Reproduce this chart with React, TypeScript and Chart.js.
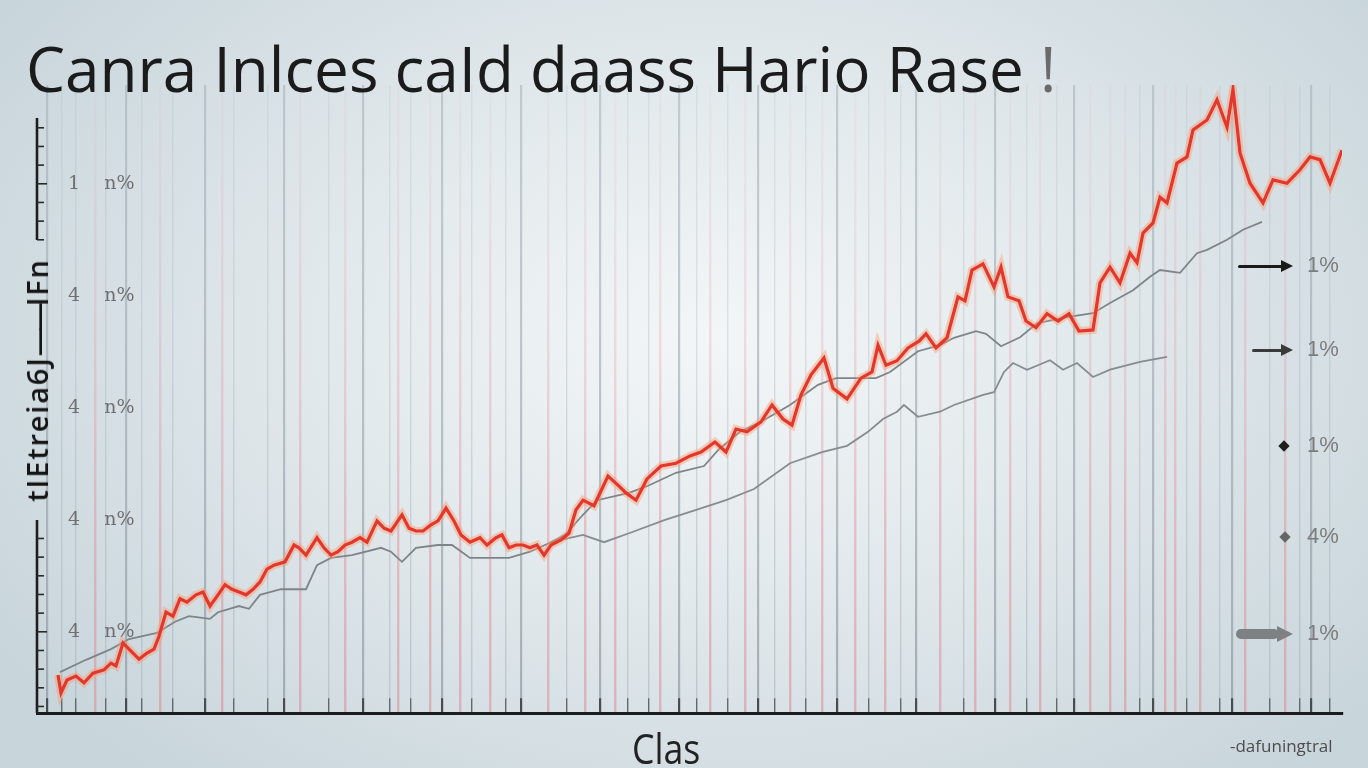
import React, { useEffect, useRef } from "react";
import { Chart, registerables } from "chart.js";

Chart.register(...registerables);

// ---------- text ----------
const TITLE = "Canra Inlces caId daass Hario Rase";
const TITLE_END = "!";
const Y_TITLE_A = "tIEtreia6J";
const Y_TITLE_B = "——";
const Y_TITLE_C = "IFn";
const X_TITLE = "Clas";
const NOTE = "-dafuningtral";
const Y_TICKS = [0, 20, 40, 60, 80];
const Y_TICK_LABELS = ["4    n%", "4    n%", "4    n%", "4    n%", "1    n%"];
const LEGEND_LABELS = ["1%", "1%", "1%", "4%", "1%"];

// ---------- series (x = day, y = index) ----------
const RED: [number, number][] = [
  [2.1, -7.7], [2.4, -10.9], [3.0, -8.6], [3.9, -7.9], [4.7, -9.1], [5.6, -7.4], [6.7, -6.8], [7.4, -5.6],
  [7.9, -6.1], [8.6, -2.0], [9.2, -3.1], [10.2, -4.9], [11.0, -3.8], [11.7, -3.1], [12.2, -0.8], [12.9, 3.5],
  [13.6, 2.8], [14.3, 5.9], [15.0, 5.3], [15.9, 6.6], [16.6, 7.1], [17.3, 4.6], [18.1, 6.6], [18.8, 8.4],
  [19.5, 7.6], [20.2, 7.1], [20.9, 6.6], [21.6, 7.6], [22.3, 8.9], [23.0, 11.2], [23.7, 11.9], [24.8, 12.5],
  [25.7, 15.5], [26.2, 15.0], [26.9, 13.7], [28.0, 16.8], [28.7, 15.0], [29.4, 13.7], [30.1, 14.3], [30.8, 15.5],
  [31.5, 16.0], [32.3, 16.8], [33.0, 16.0], [34.0, 19.8], [34.7, 18.5], [35.4, 18.0], [36.5, 20.9], [37.2, 18.5],
  [37.9, 18.0], [38.6, 18.0], [39.4, 19.1], [40.1, 19.8], [40.9, 22.1], [41.7, 19.8], [42.4, 17.3], [43.3, 16.0],
  [44.3, 16.8], [45.0, 15.5], [45.9, 16.8], [46.5, 17.3], [47.2, 15.0], [47.9, 15.5], [48.6, 15.5], [49.3, 15.0],
  [50.0, 15.5], [50.7, 13.7], [51.4, 15.5], [52.4, 16.4], [53.2, 17.6], [53.9, 21.8], [54.6, 23.5], [55.7, 22.5],
  [57.1, 27.8], [58.2, 26.0], [58.9, 24.8], [59.9, 23.5], [61.0, 27.3], [62.4, 29.6], [63.9, 30.1], [65.3, 31.4],
  [66.4, 32.1], [67.8, 33.9], [68.9, 32.1], [69.9, 36.2], [71.0, 35.7], [72.4, 37.5], [73.5, 40.5], [74.6, 38.0],
  [75.5, 36.9], [76.4, 42.3], [77.4, 45.9], [78.7, 48.9], [79.6, 43.5], [81.0, 41.6], [82.4, 45.3], [83.5, 46.4],
  [84.1, 51.2], [84.9, 47.6], [86.0, 48.4], [87.1, 50.7], [88.2, 51.9], [88.9, 53.2], [89.9, 50.7], [91.0, 52.5],
  [92.1, 59.8], [92.8, 59.1], [93.5, 64.6], [94.6, 65.7], [95.7, 61.6], [96.4, 65.1], [97.1, 59.8], [98.2, 59.1],
  [98.9, 55.5], [99.9, 54.3], [101.0, 56.8], [102.1, 55.5], [103.2, 56.8], [104.2, 53.7], [105.6, 53.9], [106.3, 62.3],
  [107.3, 65.1], [108.3, 62.3], [109.3, 67.6], [110.0, 65.9], [110.6, 71.2], [111.6, 73.0], [112.3, 77.6], [113.0, 76.6],
  [114.0, 83.7], [115.0, 84.8], [115.6, 89.6], [117.0, 91.4], [118.0, 95.0], [119.0, 90.1], [119.6, 96.8], [120.3, 85.5],
  [121.3, 80.1], [122.6, 76.6], [123.6, 80.7], [125.0, 80.1], [126.3, 82.5], [127.3, 84.8], [128.3, 84.3], [129.3, 80.1],
  [130.5, 86.0],
];

const GRAY_UPPER: [number, number][] = [
  [2.3, -7.2], [4.9, -5.0], [7.4, -3.1], [9.2, -1.3], [12.0, -0.2], [13.8, 1.8], [15.2, 2.8], [17.3, 2.3],
  [18.1, 3.5], [20.2, 4.6], [21.2, 4.1], [22.3, 6.6], [24.4, 7.6], [26.9, 7.6], [28.0, 11.9], [29.4, 13.2],
  [31.5, 13.7], [34.4, 15.0], [35.4, 14.3], [36.5, 12.5], [37.9, 15.0], [40.1, 15.5], [41.5, 15.5], [43.3, 13.2],
  [45.0, 13.2], [47.2, 13.2], [49.3, 14.3], [51.4, 16.0], [52.8, 17.3], [54.6, 20.9], [56.0, 23.5], [59.2, 24.8],
  [61.0, 26.0], [63.9, 28.4], [66.7, 29.6], [68.2, 32.6], [70.3, 35.7], [72.4, 37.5], [75.3, 40.5], [78.1, 44.1],
  [79.9, 45.3], [81.7, 45.3], [83.9, 45.3], [85.3, 46.4], [88.1, 50.1], [90.3, 51.2], [91.7, 52.5], [93.9, 53.7],
  [94.9, 53.2], [96.4, 51.0], [98.3, 52.6], [100.0, 55.1], [103.0, 56.2], [105.6, 56.9], [107.3, 58.7], [109.6, 61.0],
  [111.3, 63.4], [112.3, 64.6], [114.3, 64.1], [116.0, 67.6], [117.0, 68.2], [119.0, 70.0], [120.6, 71.8], [122.5, 73.2],
];

const GRAY_LOWER: [number, number][] = [
  [51.4, 16.0], [52.4, 16.4], [54.6, 17.3], [56.7, 16.0], [59.2, 17.6], [62.8, 20.0], [66.0, 21.8], [68.9, 23.5],
  [71.7, 25.5], [75.3, 30.1], [78.5, 32.1], [81.0, 33.2], [83.1, 35.7], [84.6, 38.0], [86.0, 39.3], [86.7, 40.5],
  [88.1, 38.4], [90.3, 39.3], [91.7, 40.5], [94.6, 42.3], [95.7, 42.8], [96.7, 46.4], [97.6, 48.0], [99.0, 46.8],
  [101.3, 48.5], [102.6, 46.8], [104.0, 48.0], [105.6, 45.5], [107.3, 46.8], [110.3, 48.2], [113.0, 49.1],
];

// vertical grid positions (x = day)
const GRID_MAJOR = [1.0, 8.9, 16.8, 24.7, 32.6, 40.5, 48.4, 56.3, 64.2, 72.1, 80.0, 87.9, 95.8, 103.7, 111.6, 119.5, 127.4];
const GRID_MINOR = [2.5, 3.9, 6.9, 10.5, 13.6, 19.7, 23.1, 29.2, 35.3, 37.4, 43.5, 46.9, 53.0, 59.1, 61.2, 66.0, 69.1,
  73.8, 76.9, 83.2, 86.4, 92.7, 99.0, 102.0, 110.3, 115.0, 118.3, 123.3, 126.3, 129.3];
const GRID_PINK = [5.8, 12.3, 18.5, 26.3, 30.8, 36.1, 39.3, 42.3, 45.3, 51.1, 54.8, 57.8, 62.3, 67.3, 70.8, 75.3, 78.5,
  81.8, 84.8, 90.3, 93.8, 97.3, 100.3, 105.3, 107.3, 108.8, 112.8, 113.8, 116.3, 120.8, 124.8];

const X_MIN = 0;
const X_MAX = 130.5;
const Y_MIN = -14.5;
const Y_MAX = 97.64;
const Y_AXIS_TOP = 91.75;
const Y_MINOR_STEP = 20 / 6;

const toPts = (a: [number, number][]) => a.map(([x, y]) => ({ x, y }));

const MAJOR_SET = new Set(GRID_MAJOR);
const PINK_SET = new Set(GRID_PINK);
const ALL_GRID = [...GRID_MAJOR, ...GRID_MINOR, ...GRID_PINK].sort((a, b) => a - b);

function kindOf(v: number) {
  if (PINK_SET.has(v)) return "pink";
  if (MAJOR_SET.has(v)) return "major";
  return "minor";
}

const gradCache: Record<string, CanvasGradient> = {};
function gridColor(c: any) {
  const chart = c.chart;
  const area = chart.chartArea;
  if (!area || !c.tick) return "rgba(0,0,0,0)";
  const kind = kindOf(c.tick.value);
  const key = kind + ":" + area.top + ":" + area.bottom;
  if (gradCache[key]) return gradCache[key];
  const g = chart.ctx.createLinearGradient(0, area.top, 0, area.bottom);
  const h = area.bottom - area.top;
  const cut = 1 - 15 / h;
  if (kind === "pink") {
    g.addColorStop(0, "rgba(228,150,160,0.05)");
    g.addColorStop(0.35, "rgba(226,140,150,0.22)");
    g.addColorStop(0.7, "rgba(224,128,140,0.4)");
    g.addColorStop(1, "rgba(222,125,135,0.48)");
  } else if (kind === "major") {
    g.addColorStop(0, "rgba(150,165,175,0.45)");
    g.addColorStop(0.6, "rgba(140,152,162,0.55)");
    g.addColorStop(cut, "rgba(130,140,150,0.6)");
    g.addColorStop(cut + 0.001, "rgba(55,60,66,0.9)");
    g.addColorStop(1, "rgba(55,60,66,0.9)");
  } else {
    g.addColorStop(0, "rgba(165,178,188,0.2)");
    g.addColorStop(0.6, "rgba(155,167,177,0.35)");
    g.addColorStop(cut, "rgba(150,160,170,0.4)");
    g.addColorStop(cut + 0.001, "rgba(70,75,80,0.8)");
    g.addColorStop(1, "rgba(70,75,80,0.8)");
  }
  gradCache[key] = g;
  return g;
}

function gridWidth(c: any) {
  if (!c.tick) return 1;
  const k = kindOf(c.tick.value);
  return k === "major" ? 2.2 : k === "pink" ? 2.4 : 1.4;
}

const yAxisPlugin = {
  id: "yAxisLine",
  afterDatasetsDraw(chart: any) {
    const { ctx } = chart;
    const ys = chart.scales.y;
    const x0 = ys.right;
    const top = ys.getPixelForValue(Y_AXIS_TOP);
    const bottom = ys.getPixelForValue(Y_MIN);
    const gapTop = 240;
    const gapBottom = 520;
    ctx.save();
    ctx.strokeStyle = "#1e1e1e";
    ctx.lineWidth = 2.6;
    ctx.beginPath();
    ctx.moveTo(x0, top);
    ctx.lineTo(x0, gapTop);
    ctx.moveTo(x0, gapBottom);
    ctx.lineTo(x0, bottom);
    ctx.stroke();
    ctx.lineWidth = 1.6;
    ctx.strokeStyle = "#2a2a2a";
    for (let k = Math.ceil(Y_MIN / Y_MINOR_STEP); k * Y_MINOR_STEP <= Y_AXIS_TOP + 0.01; k++) {
      const py = ys.getPixelForValue(k * Y_MINOR_STEP);
      if (py > gapTop && py < gapBottom) continue;
      const len = k % 6 === 0 ? 10 : 7;
      ctx.beginPath();
      ctx.moveTo(x0, py);
      ctx.lineTo(x0 + len, py);
      ctx.stroke();
    }
    ctx.restore();
  },
};

function Arrow({ y, left, right, thick, color }: { y: number; left: number; right: number; thick: number; color: string }) {
  const head = Math.max(12, thick + 6);
  return (
    <>
      <div style={{ position: "absolute", left, top: y - thick / 2, width: right - left - head + 2, height: thick, background: color, borderRadius: thick / 2 }} />
      <div style={{ position: "absolute", left: right - head, top: y - head / 2, width: 0, height: 0, borderTop: `${head / 2}px solid transparent`, borderBottom: `${head / 2}px solid transparent`, borderLeft: `${head}px solid ${color}` }} />
    </>
  );
}

function Diamond({ y, x, size, color }: { y: number; x: number; size: number; color: string }) {
  return <div style={{ position: "absolute", left: x - size / 2, top: y - size / 2, width: size, height: size, background: color, transform: "rotate(45deg)" }} />;
}

const LEGEND_Y = [266, 350, 446, 537, 634];

export default function App() {
  const ref = useRef<HTMLCanvasElement>(null);

  useEffect(() => {
    if (!ref.current) return;
    const chart = new Chart(ref.current, {
      type: "line",
      data: {
        datasets: [
          { data: toPts(RED), borderColor: "#e3372b", borderWidth: 3.2, pointRadius: 0, order: 0, tension: 0 },
          { data: toPts(RED), borderColor: "rgba(255,150,105,0.42)", borderWidth: 8, pointRadius: 0, order: 1, tension: 0 },
          { data: toPts(GRAY_UPPER), borderColor: "#7e8589", borderWidth: 1.8, pointRadius: 0, order: 2, tension: 0 },
          { data: toPts(GRAY_LOWER), borderColor: "#868c90", borderWidth: 1.8, pointRadius: 0, order: 3, tension: 0 },
        ],
      },
      options: {
        responsive: false,
        devicePixelRatio: 1,
        animation: false,
        layout: { padding: { left: 37, right: 26, top: 85, bottom: 55 } },
        plugins: { legend: { display: false }, tooltip: { enabled: false }, title: { display: false } },
        scales: {
          x: {
            type: "linear",
            min: X_MIN,
            max: X_MAX,
            afterBuildTicks: (s: any) => {
              s.ticks = ALL_GRID.map((v) => ({ value: v }));
            },
            afterFit: (s: any) => {
              s.height = 0;
            },
            ticks: { display: false },
            grid: { color: gridColor, lineWidth: gridWidth, drawTicks: false },
            border: { display: true, color: "#1c1c1c", width: 3 },
          },
          y: {
            type: "linear",
            min: Y_MIN,
            max: Y_MAX,
            afterBuildTicks: (s: any) => {
              s.ticks = Y_TICKS.map((v) => ({ value: v }));
            },
            afterFit: (s: any) => {
              s.width = 0;
            },
            ticks: {
              mirror: true,
              padding: 31,
              color: "#707070",
              font: { family: "DejaVu Serif", size: 19 },
              callback: (_v: any, i: number) => Y_TICK_LABELS[i],
            },
            grid: { display: false, drawTicks: false },
            border: { display: false },
          },
        },
      },
      plugins: [yAxisPlugin],
    } as any);
    return () => chart.destroy();
  }, []);

  return (
    <div
      style={{
        position: "fixed",
        left: 0,
        top: 0,
        width: 1368,
        height: 768,
        overflow: "hidden",
        background: "radial-gradient(ellipse 62% 75% at 52% 44%, #f3f6f7 0%, #e2e9ec 45%, #c8d5db 100%)",
        fontFamily: "'Open Sans', sans-serif",
      }}
    >
      <canvas ref={ref} width={1368} height={768} style={{ position: "absolute", left: 0, top: 0, width: 1368, height: 768 }} />
      <div style={{ position: "absolute", left: 26, top: 37, fontSize: 62, lineHeight: "62px", color: "#1b1b1b", whiteSpace: "nowrap" }}>
        {TITLE} <span style={{ color: "#6a6a6a" }}>{TITLE_END}</span>
      </div>
      <div
        style={{
          position: "absolute",
          left: 37,
          top: 380,
          transform: "translate(-50%, -50%) rotate(-90deg)",
          whiteSpace: "nowrap",
          fontSize: 29,
          lineHeight: "30px",
          fontWeight: 600,
          color: "#151515",
          letterSpacing: 1.8,
        }}
      >
        {Y_TITLE_A}
        <span style={{ letterSpacing: -4 }}>{Y_TITLE_B}</span>
        {Y_TITLE_C}
      </div>
      <div style={{ position: "absolute", left: 632, top: 727, fontSize: 42, lineHeight: "42px", color: "#222", transform: "scaleX(0.85)", transformOrigin: "left center" }}>
        {X_TITLE}
      </div>
      <div style={{ position: "absolute", left: 1230, top: 737, fontSize: 17, lineHeight: "17px", color: "#4d4d4d", whiteSpace: "nowrap" }}>{NOTE}</div>

      <Arrow y={LEGEND_Y[0]} left={1238} right={1293} thick={3} color="#1a1a1a" />
      <Arrow y={LEGEND_Y[1]} left={1252} right={1293} thick={3} color="#3a3a3a" />
      <Diamond y={LEGEND_Y[2]} x={1284} size={8} color="#1e1e1e" />
      <Diamond y={LEGEND_Y[3]} x={1285} size={8} color="#666" />
      <Arrow y={LEGEND_Y[4]} left={1236} right={1293} thick={10} color="#7d8184" />
      {LEGEND_LABELS.map((t, i) => (
        <div
          key={i}
          style={{ position: "absolute", left: 1307, top: LEGEND_Y[i] - 13, fontSize: 22, lineHeight: "24px", color: "#7c7c7c", fontFamily: "'Liberation Sans', sans-serif" }}
        >
          {t}
        </div>
      ))}
    </div>
  );
}
